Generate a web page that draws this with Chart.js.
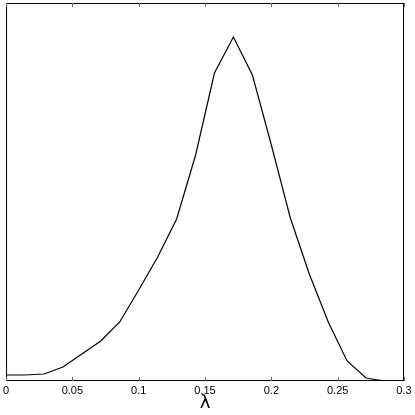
<!DOCTYPE html>
<html>
<head>
<meta charset="utf-8">
<script src="https://cdn.jsdelivr.net/npm/chart.js@4/dist/chart.umd.min.js"></script>
<style>
  html, body { margin: 0; padding: 0; background: #fff; }
  #wrap { width: 415px; height: 415px; }
</style>
</head>
<body>
<div id="wrap"><canvas id="myChart" width="415" height="415"></canvas></div>
<script>
// lambda grid (0 .. 0.3, 21 steps) and curve height
const lambdas = [0, 0.0143, 0.0286, 0.0429, 0.0571, 0.0714, 0.0857, 0.1, 0.1143, 0.1286, 0.1429,
  0.1571, 0.1714, 0.1857, 0.2, 0.2143, 0.2286, 0.2429, 0.2571, 0.2714, 0.2857, 0.3];
const values = [0.06, 0.06, 0.07, 0.14, 0.27, 0.40, 0.59, 0.91, 1.24, 1.62, 2.26,
  3.08, 3.44, 3.06, 2.36, 1.63, 1.07, 0.59, 0.20, 0.03, 0.00, 0.00];
const xTicks = [0, 0.05, 0.1, 0.15, 0.2, 0.25, 0.3];

const points = lambdas.map((x, i) => ({ x: x, y: values[i] }));

// box around the plot plus inward tick marks on top and bottom
const boxPlugin = {
  id: 'box',
  afterDraw(chart) {
    const { ctx, chartArea } = chart;
    const xs = chart.scales.x;
    ctx.save();
    ctx.strokeStyle = '#000';
    ctx.lineWidth = 1;
    ctx.strokeRect(chartArea.left + 0.5, chartArea.top + 0.5,
      chartArea.right - chartArea.left - 1, chartArea.bottom - chartArea.top - 1);
    ctx.strokeStyle = '#666';
    xTicks.forEach(t => {
      const px = Math.round(xs.getPixelForValue(t)) + 0.5;
      ctx.beginPath();
      ctx.moveTo(px, chartArea.bottom);
      ctx.lineTo(px, chartArea.bottom - 4);
      ctx.moveTo(px, chartArea.top);
      ctx.lineTo(px, chartArea.top + 4);
      ctx.stroke();
    });
    ctx.restore();
  }
};

const ctx = document.getElementById('myChart').getContext('2d');
new Chart(ctx, {
  type: 'line',
  data: {
    datasets: [{
      data: points,
      borderColor: '#000',
      borderWidth: 1.2,
      pointRadius: 0,
      tension: 0,
      fill: false
    }]
  },
  options: {
    responsive: false,
    animation: false,
    layout: { padding: { left: 4, right: 11, top: 3, bottom: 0 } },
    plugins: { legend: { display: false }, tooltip: { enabled: false } },
    scales: {
      x: {
        type: 'linear',
        min: 0,
        max: 0.3,
        afterBuildTicks: (scale) => { scale.ticks = xTicks.map(v => ({ value: v })); },
        afterFit: (scale) => { scale.height = 34; },
        grid: { display: false, drawTicks: false },
        border: { display: false },
        ticks: {
          padding: 3,
          color: '#000',
          maxRotation: 0,
          autoSkip: false,
          font: { family: 'Liberation Sans', size: 11 },
          callback: (v) => String(Math.round(v * 100) / 100)
        },
        title: {
          display: true,
          text: 'λ',
          color: '#000',
          padding: { top: 0, bottom: 1 },
          font: { family: 'DejaVu Sans', size: 18 }
        }
      },
      y: {
        display: false,
        min: 0,
        max: 3.78
      }
    }
  },
  plugins: [boxPlugin]
});
</script>
</body>
</html>
